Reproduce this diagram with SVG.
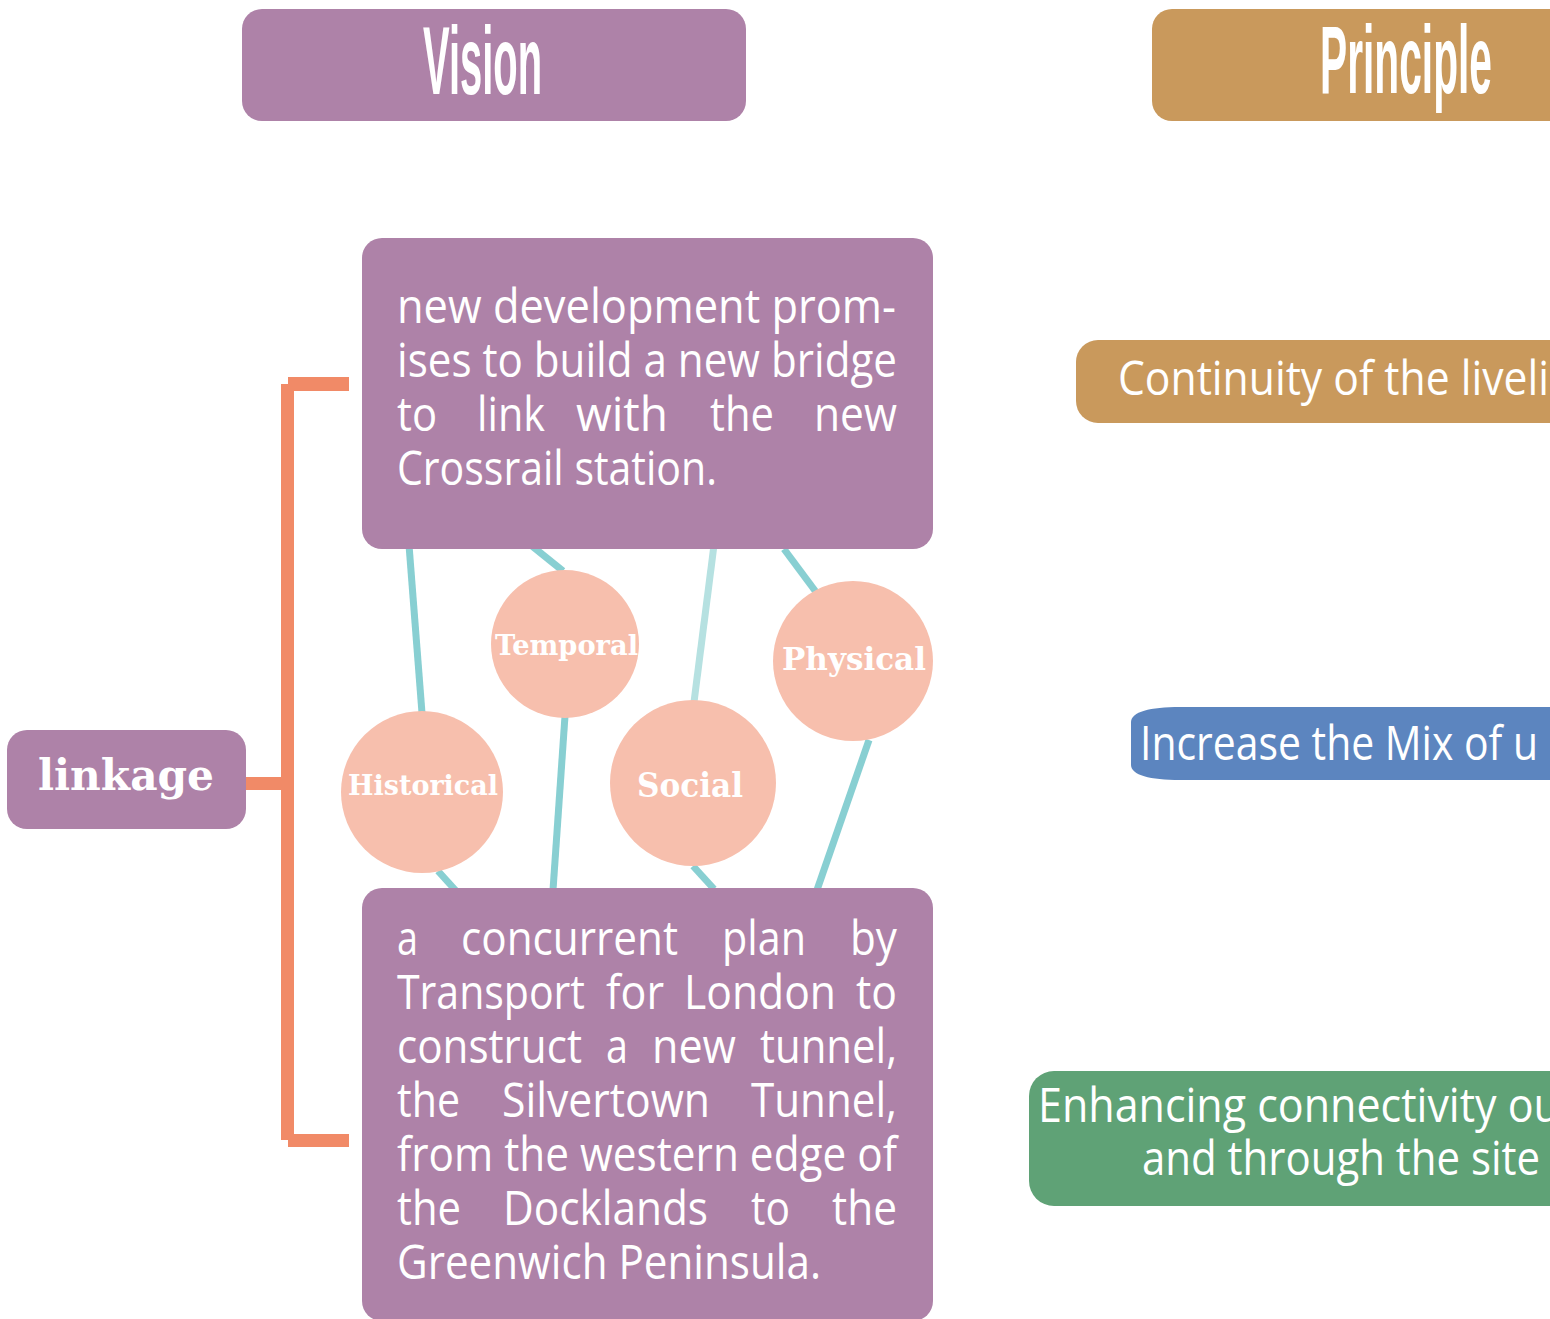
<svg xmlns="http://www.w3.org/2000/svg" width="1550" height="1319" viewBox="0 0 1550 1319">
<style>
.purple{fill:#AE82A8}
.gold{fill:#C9995C}
.peach{fill:#F7BFAD}
.orange{fill:#F18A67}
.conn{stroke:#88CFD2;stroke-width:7;fill:none}
.conn-light{stroke:#B6E1E1;stroke-width:7;fill:none}
.title{font-family:"Liberation Sans",Arial,sans-serif;font-weight:bold;font-size:96px;fill:#fff}
.body{font-family:"Open Sans","Noto Sans",sans-serif;font-size:47px;fill:#fff}
.serif{font-family:"DejaVu Serif","Liberation Serif",serif;font-weight:bold;fill:#fff}
</style>
<rect width="1550" height="1319" fill="#fff"/>

<g id="vision-header">
  <rect class="purple" x="242" y="9" width="504" height="112" rx="20"/>
  <text class="title" x="423" y="94" textLength="119" lengthAdjust="spacingAndGlyphs">Vision</text>
</g>
<g id="principle-header">
  <rect class="gold" x="1152" y="9" width="430" height="112" rx="20"/>
  <text class="title" x="1320" y="93" textLength="172" lengthAdjust="spacingAndGlyphs">Principle</text>
</g>

<g id="bracket">
  <rect class="orange" x="281" y="384" width="13" height="756"/>
  <rect class="orange" x="288" y="377" width="61" height="14"/>
  <rect class="orange" x="288" y="1134" width="61" height="13"/>
  <rect class="orange" x="245" y="777" width="40" height="13"/>
</g>

<g id="connectors">
  <line class="conn" x1="409" y1="545" x2="422" y2="713"/>
  <line class="conn" x1="527" y1="542" x2="563" y2="571"/>
  <line class="conn" x1="565" y1="716" x2="553" y2="890"/>
  <line class="conn-light" x1="714" y1="545" x2="694" y2="702"/>
  <line class="conn" x1="784" y1="549" x2="816" y2="592"/>
  <line class="conn" x1="869" y1="740" x2="817" y2="890"/>
  <line class="conn" x1="438" y1="871" x2="458" y2="893"/>
  <line class="conn" x1="693" y1="866" x2="714" y2="889"/>
</g>

<g id="linkage">
  <rect class="purple" x="7" y="730" width="239" height="99" rx="20"/>
  <text class="serif" x="38" y="790" font-size="42" textLength="176" lengthAdjust="spacingAndGlyphs">linkage</text>
</g>

<g id="vision-top">
  <rect class="purple" x="362" y="238" width="571" height="311" rx="20"/>
  <text class="body" x="397" y="323" textLength="499" lengthAdjust="spacingAndGlyphs">new development prom-</text>
  <text class="body" x="397" y="377" textLength="500" lengthAdjust="spacingAndGlyphs">ises to build a new bridge</text>
  <text class="body" y="431"><tspan x="397" textLength="40" lengthAdjust="spacingAndGlyphs">to</tspan><tspan x="477" textLength="68" lengthAdjust="spacingAndGlyphs">link</tspan><tspan x="576" textLength="92" lengthAdjust="spacingAndGlyphs">with</tspan><tspan x="710" textLength="64" lengthAdjust="spacingAndGlyphs">the</tspan><tspan x="814" textLength="83" lengthAdjust="spacingAndGlyphs">new</tspan></text>
  <text class="body" x="397" y="485" textLength="320" lengthAdjust="spacingAndGlyphs">Crossrail station.</text>
</g>

<g id="vision-bottom">
  <rect class="purple" x="362" y="888" width="571" height="433" rx="20"/>
  <text class="body" y="955"><tspan x="397" textLength="21" lengthAdjust="spacingAndGlyphs">a</tspan><tspan x="461" textLength="217" lengthAdjust="spacingAndGlyphs">concurrent</tspan><tspan x="722" textLength="84" lengthAdjust="spacingAndGlyphs">plan</tspan><tspan x="850" textLength="47" lengthAdjust="spacingAndGlyphs">by</tspan></text>
  <text class="body" y="1009"><tspan x="397" textLength="188" lengthAdjust="spacingAndGlyphs">Transport</tspan><tspan x="606" textLength="58" lengthAdjust="spacingAndGlyphs">for</tspan><tspan x="684" textLength="152" lengthAdjust="spacingAndGlyphs">London</tspan><tspan x="856" textLength="41" lengthAdjust="spacingAndGlyphs">to</tspan></text>
  <text class="body" y="1063"><tspan x="397" textLength="185" lengthAdjust="spacingAndGlyphs">construct</tspan><tspan x="606" textLength="22" lengthAdjust="spacingAndGlyphs">a</tspan><tspan x="652" textLength="84" lengthAdjust="spacingAndGlyphs">new</tspan><tspan x="760" textLength="137" lengthAdjust="spacingAndGlyphs">tunnel,</tspan></text>
  <text class="body" y="1117"><tspan x="397" textLength="63" lengthAdjust="spacingAndGlyphs">the</tspan><tspan x="502" textLength="208" lengthAdjust="spacingAndGlyphs">Silvertown</tspan><tspan x="751" textLength="146" lengthAdjust="spacingAndGlyphs">Tunnel,</tspan></text>
  <text class="body" x="397" y="1171" textLength="500" lengthAdjust="spacingAndGlyphs">from the western edge of</text>
  <text class="body" y="1225"><tspan x="397" textLength="64" lengthAdjust="spacingAndGlyphs">the</tspan><tspan x="503" textLength="205" lengthAdjust="spacingAndGlyphs">Docklands</tspan><tspan x="751" textLength="39" lengthAdjust="spacingAndGlyphs">to</tspan><tspan x="832" textLength="65" lengthAdjust="spacingAndGlyphs">the</tspan></text>
  <text class="body" x="397" y="1279" textLength="424" lengthAdjust="spacingAndGlyphs">Greenwich Peninsula.</text>
</g>

<g id="temporal">
  <circle class="peach" cx="565" cy="644" r="74"/>
  <text class="serif" x="495" y="655" font-size="28" textLength="143" lengthAdjust="spacingAndGlyphs">Temporal</text>
</g>
<g id="physical">
  <circle class="peach" cx="853" cy="661" r="80"/>
  <text class="serif" x="782" y="670" font-size="32" textLength="144" lengthAdjust="spacingAndGlyphs">Physical</text>
</g>
<g id="historical">
  <circle class="peach" cx="422" cy="792" r="81"/>
  <text class="serif" x="348" y="795" font-size="28" textLength="150" lengthAdjust="spacingAndGlyphs">Historical</text>
</g>
<g id="social">
  <circle class="peach" cx="693" cy="783" r="83"/>
  <text class="serif" x="637" y="797" font-size="33" textLength="106" lengthAdjust="spacingAndGlyphs">Social</text>
</g>

<g id="principle-continuity">
  <rect class="gold" x="1076" y="340" width="500" height="83" rx="22"/>
  <text class="body" x="1118" y="395" textLength="431" lengthAdjust="spacingAndGlyphs">Continuity of the liveli</text>
</g>
<g id="principle-mix">
  <path fill="#5C85BF" d="M1180,707 H1580 V780 H1180 C1150,780 1131,775 1131,765 V722 C1131,712 1150,707 1180,707 Z"/>
  <text class="body" x="1140" y="760" textLength="398" lengthAdjust="spacingAndGlyphs">Increase the Mix of u</text>
</g>
<g id="principle-connectivity">
  <rect fill="#5FA276" x="1029" y="1071" width="560" height="135" rx="25"/>
  <text class="body" x="1038" y="1122" textLength="522" lengthAdjust="spacingAndGlyphs">Enhancing connectivity ou</text>
  <text class="body" x="1142" y="1175" textLength="398" lengthAdjust="spacingAndGlyphs">and through the site</text>
</g>
</svg>
